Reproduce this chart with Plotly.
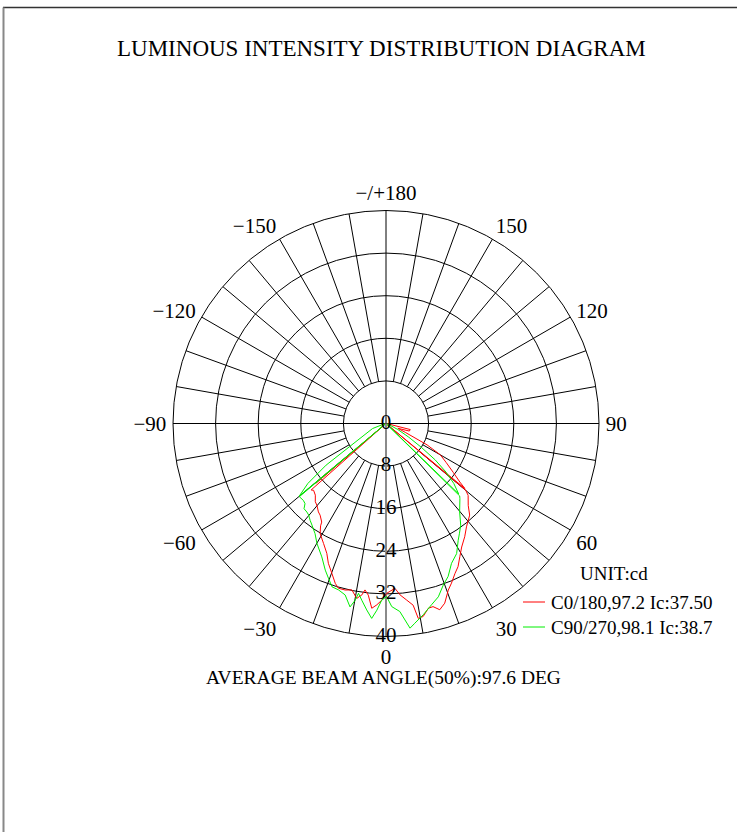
import plotly.graph_objects as go

# ---------------- text ----------------
title_text = "LUMINOUS INTENSITY DISTRIBUTION DIAGRAM"
beam_text = "AVERAGE BEAM ANGLE(50%):97.6 DEG"
unit_text = "UNIT:cd"
series_names = ["C0/180,97.2 Ic:37.50", "C90/270,98.1 Ic:38.7"]
series_colors = ["#ff0000", "#00ee00"]

# ---------------- axes ----------------
angle_tick_vals = [0, 30, 60, 90, 120, 150, 180, 210, 240, 270, 300, 330]
angle_tick_text = ["0", "30", "60", "90", "120", "150", "\u2212/+180",
                   "\u2212150", "\u2212120", "\u221290", "\u221260", "\u221230"]
radial_ticks = [0, 8, 16, 24, 32, 40]
spoke_angles = list(range(0, 360, 10))

# ---------------- data (cd vs. gamma angle) ----------------
c0_theta = [-90, -70, -55, -51.0, -49.6, -49.2, -48.4, -47.3, -44.6, -42.1,
            -40.2, -37.4, -35.7, -33.1, -32.6, -30.9, -27.5, -24.5, -22.4, -19.9,
            -17.6, -16.1, -13.8, -11.6, -9.5, -8.0, -7.2, -5.9, -4.4, -2.9,
            -1.4, 0.2, 3.1, 4.7, 6.7, 8.5, 9.4, 10.9, 12.9, 14.4,
            16.1, 18.1, 20.5, 22.3, 24.7, 26.7, 29.0, 31.5, 34.8, 37.9,
            42.4, 45.1, 48.8, 50.1, 50.3, 50.5, 51.6, 54.0, 57.0, 60.0,
            62.5, 65.3, 68.0, 72.0, 76.0, 78.0, 90.0]
c0_r = [0.3, 0.3, 0.4, 0.5, 17.3, 0.4, 18.8, 18.5, 18.9, 19.8,
        20.1, 20.9, 21.2, 22.1, 22.8, 24.1, 25.4, 26.8, 28.4, 29.9,
        31.5, 32.2, 32.2, 31.9, 33.3, 32.5, 31.5, 32.4, 34.8, 34.1,
        33.2, 31.9, 31.0, 32.3, 33.4, 34.5, 37.1, 36.9, 35.6, 35.5,
        36.4, 35.5, 33.4, 32.4, 31.0, 30.1, 28.6, 27.2, 25.9, 24.6,
        23.3, 21.8, 20.5, 19.5, 0.4, 19.2, 17.7, 15.6, 13.5, 11.8,
        8.7, 4.0, 2.4, 4.6, 4.7, 0.5, 0.3]

c90_theta = [-90, -75, -69.4, -57.6, -55.2, -52.5, -50.1, -49.9, -49.8, -47.0,
             -45.3, -43.9, -41.8, -40.2, -38.1, -36.1, -32.8, -29.9, -25.7, -22.5,
             -20.4, -18.3, -15.9, -13.4, -11.1, -9.9, -9.2, -7.8, -5.9, -4.2,
             -2.8, -1.4, 0.2, 1.8, 4.2, 6.7, 8.2, 11.0, 14.1, 16.8,
             19.5, 22.1, 25.1, 28.5, 31.7, 33.8, 36.3, 39.8, 44.5, 45.5,
             45.7, 45.9, 48.5, 51.0, 53.5, 56.0, 59.0, 63.0, 70.0, 90.0]
c90_r = [0.3, 0.4, 2.7, 8.1, 13.7, 18.5, 21.2, 0.3, 21.3, 21.2,
         21.4, 22.2, 22.3, 22.5, 23.1, 23.6, 24.6, 26.0, 27.8, 29.8,
         31.0, 32.3, 32.5, 33.1, 35.1, 33.7, 32.3, 33.5, 35.2, 36.7,
         35.1, 33.2, 32.5, 34.4, 35.4, 38.7, 37.9, 36.6, 35.1, 34.0,
         32.2, 31.0, 29.0, 27.8, 25.8, 24.8, 23.7, 21.6, 19.8, 19.4,
         0.3, 19.0, 17.0, 14.5, 11.5, 8.0, 5.0, 2.5, 0.5, 0.3]

FONT = "Liberation Serif"
W, H = 737, 832

fig = go.Figure()

# spokes every 10 deg: main axes from the centre, others from the first ring
sp_r, sp_t = [], []
for a in spoke_angles:
    if a == 0:
        continue
    r0 = radial_ticks[0] if a % 90 == 0 else radial_ticks[1]
    sp_r += [r0, radial_ticks[-1], None]
    sp_t += [a, a, None]
fig.add_trace(go.Scatterpolar(r=sp_r, theta=sp_t, mode="lines",
                              line=dict(color="black", width=1),
                              hoverinfo="skip", showlegend=False))
fig.add_trace(go.Scatterpolar(r=[radial_ticks[0], radial_ticks[-1]], theta=[0, 0],
                              mode="lines", line=dict(color="#8a8a8a", width=2),
                              hoverinfo="skip", showlegend=False))

# photometric curves
fig.add_trace(go.Scatterpolar(r=c0_r, theta=c0_theta, mode="lines",
                              line=dict(color=series_colors[0], width=1),
                              name=series_names[0], showlegend=False))
fig.add_trace(go.Scatterpolar(r=c90_r, theta=c90_theta, mode="lines",
                              line=dict(color=series_colors[1], width=1),
                              name=series_names[1], showlegend=False))

# radial value labels along the 0 deg axis
fig.add_trace(go.Scatterpolar(r=radial_ticks, theta=[0] * len(radial_ticks),
                              mode="text", text=[str(v) for v in radial_ticks],
                              textposition="middle center",
                              textfont=dict(family=FONT, size=21, color="black"),
                              cliponaxis=False, hoverinfo="skip", showlegend=False))

cx0, cx1 = 173 / W, 599 / W
cy0, cy1 = (H - 637) / H, (H - 210) / H

fig.update_layout(
    width=W, height=H, autosize=False,
    margin=dict(l=0, r=0, t=0, b=0),
    paper_bgcolor="white", plot_bgcolor="white",
    font=dict(family=FONT, color="black"),
    polar=dict(
        domain=dict(x=[cx0, cx1], y=[cy0, cy1]),
        bgcolor="white",
        angularaxis=dict(rotation=270, direction="counterclockwise",
                         tickmode="array", tickvals=angle_tick_vals,
                         ticktext=angle_tick_text, showgrid=False,
                         showline=True, linecolor="black", linewidth=1,
                         ticks="outside", ticklen=2, tickcolor="rgba(0,0,0,0)",
                         tickfont=dict(family=FONT, size=21, color="black")),
        radialaxis=dict(range=[0, radial_ticks[-1]], tickmode="array",
                        tickvals=radial_ticks[1:], showticklabels=False,
                        showline=False, ticks="", showgrid=True,
                        gridcolor="black", gridwidth=1),
    ),
)

# frame lines
fig.add_shape(type="line", xref="paper", yref="paper",
              x0=3 / W, x1=1, y0=(H - 7.5) / H, y1=(H - 7.5) / H,
              line=dict(color="#333333", width=1.5))
fig.add_shape(type="line", xref="paper", yref="paper",
              x0=3.5 / W, x1=3.5 / W, y0=0, y1=(H - 7.5) / H,
              line=dict(color="#888888", width=2))

# texts
fig.add_annotation(text=title_text, xref="paper", yref="paper",
                   x=381 / W, y=(H - 49) / H, xanchor="center", yanchor="middle",
                   showarrow=False, font=dict(family=FONT, size=23, color="black"))
fig.add_annotation(text=beam_text, xref="paper", yref="paper",
                   x=383 / W, y=(H - 678) / H, xanchor="center", yanchor="middle",
                   showarrow=False, font=dict(family=FONT, size=19.5, color="black"))
fig.add_annotation(text=unit_text, xref="paper", yref="paper",
                   x=578 / W, y=(H - 573) / H, xanchor="left", yanchor="middle",
                   showarrow=False, font=dict(family=FONT, size=19, color="black"))
for i, (nm, col) in enumerate(zip(series_names, series_colors)):
    yy = (H - (602 + 25 * i)) / H
    fig.add_shape(type="line", xref="paper", yref="paper",
                  x0=523 / W, x1=545 / W, y0=yy, y1=yy,
                  line=dict(color=col, width=1))
    fig.add_annotation(text=nm, xref="paper", yref="paper",
                       x=549 / W, y=yy, xanchor="left", yanchor="middle",
                       showarrow=False, font=dict(family=FONT, size=19, color="black"))

fig.write_html("out.html", config={"displayModeBar": False},
               post_script="document.body.style.margin='0';")
